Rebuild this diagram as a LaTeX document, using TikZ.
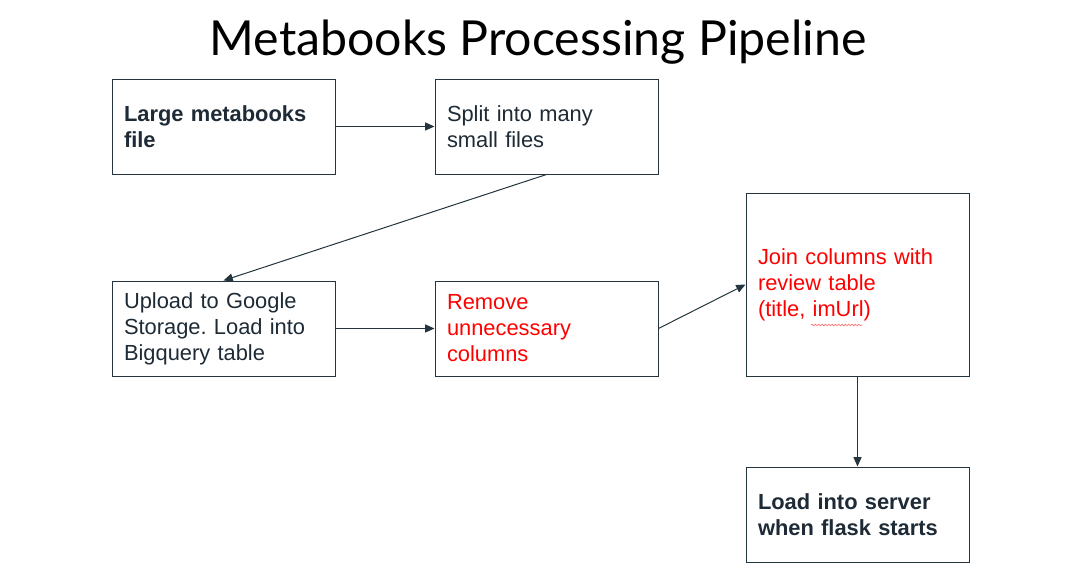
\documentclass[tikz,border=0pt]{standalone}
\usepackage{fontspec}
\setmainfont{Liberation Sans}
\newfontfamily\titlefont{Lato}
\usetikzlibrary{arrows.meta,decorations.pathmorphing}
\definecolor{edge}{HTML}{24353F}
\definecolor{ink}{HTML}{1E2B36}
\definecolor{redtext}{HTML}{FF0000}
\frenchspacing
\begin{document}
\begin{tikzpicture}[x=0.75pt,y=-0.75pt,
  stepbox/.style={draw=edge, line width=0.75pt, minimum width=167.25pt, minimum height=71.25pt,
    text width=149.25pt, inner xsep=9pt, align=left, text=ink,
    font=\fontsize{16.4}{19.5}\selectfont},
  tallbox/.style={stepbox, minimum height=137.25pt},
  conn/.style={draw=edge, line width=0.75pt, -{Triangle[length=7pt,width=6pt]}}]
\useasboundingbox[fill=white] (0,0) rectangle (1074,579);
\node[font=\titlefont\fontsize{36.2}{40}\selectfont] (title) at (538,42) {Metabooks Processing Pipeline};
\node[stepbox] (large) at (223.5,126.5) {\textbf{Large metabooks}\\\textbf{file}};
\node[stepbox] (split) at (546.5,126.5) {Split into many\\small files};
\node[stepbox] (upload) at (223.5,328.5) {Upload to Google\\Storage. Load into\\Bigquery table};
\node[stepbox, text=redtext] (remove) at (546.5,328.5) {Remove\\unnecessary\\columns};
\node[tallbox, text=redtext] (join) at (857.5,284.5) {Join columns with\\review table\\(title, imUrl)};
\node[stepbox] (load) at (857.5,514.5) {\textbf{Load into server}\\\textbf{when flask starts}};
\draw[conn] (large) -- (split);
\draw[conn] (split.south) -- (upload.north);
\draw[conn] (upload) -- (remove);
\draw[conn] (remove.east) -- (join.west);
\draw[conn] (join) -- (load);
\draw[draw=red!55, line width=0.5pt, decorate, decoration={snake, amplitude=0.6pt, segment length=2.5pt}] (811,325) -- (862,325);
\end{tikzpicture}
\end{document}
